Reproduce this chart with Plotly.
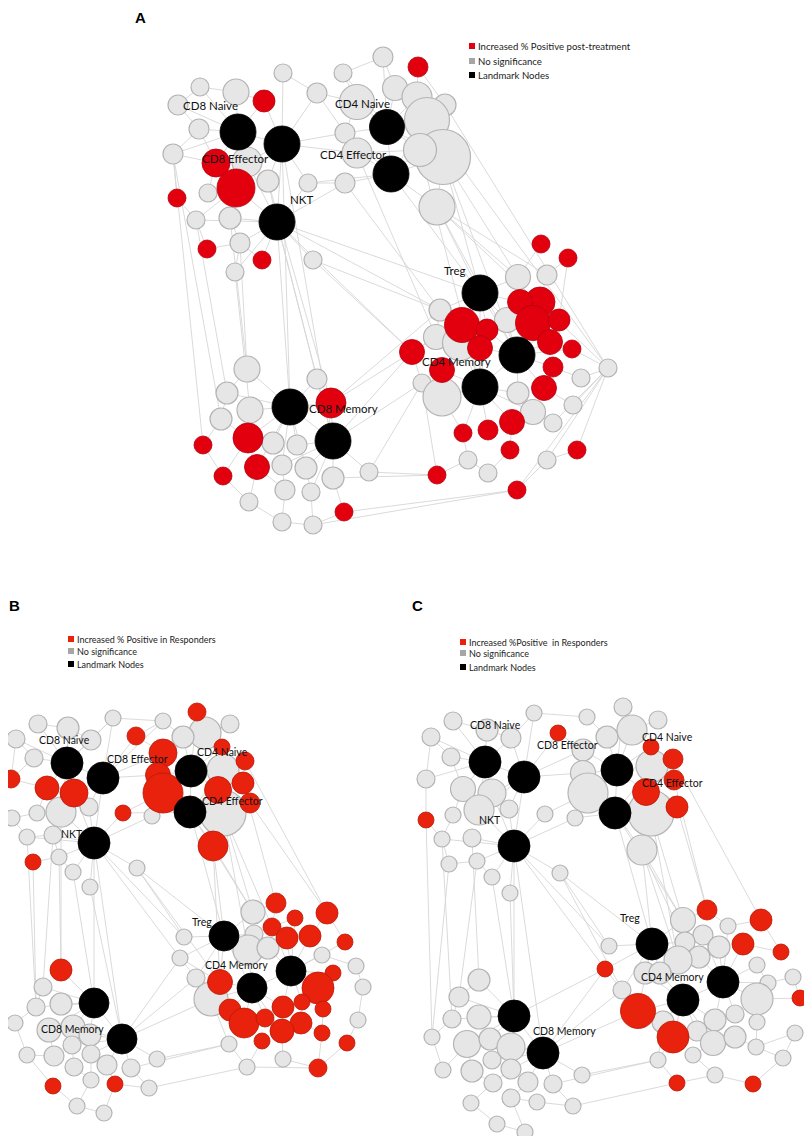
import plotly.graph_objects as go

# ---------------- panel A : post-treatment ----------------
# node layout (x, y), node size and node class (0 = no significance, 1 = increased, 2 = landmark)
a_x = [383, 418, 343, 283, 200, 236, 264, 178, 317, 357, 395, 417, 445, 387, 427, 443, 420, 345, 357, 391,
       437, 345, 308, 282, 238, 199, 173, 216, 247, 236, 268, 208, 177, 196, 230, 277, 207, 240, 262, 313,
       235,
       541, 568, 518, 547, 480, 540, 520, 533, 559, 550, 440, 462, 487, 507, 436, 460, 480, 517, 412, 572,
       442, 608, 553, 422, 442, 480, 518, 544, 581, 533, 573, 512, 553, 463, 488, 510, 577, 468, 547, 488,
       437, 517,
       247, 317, 227, 290, 331, 250, 221, 333, 248, 273, 297, 203, 257, 282, 306, 333, 223, 369, 285, 311,
       249, 344, 282, 313]
a_y = [57, 67, 73, 73, 87, 92, 101, 105, 93, 102, 88, 97, 105, 127, 120, 157, 150, 133, 153, 174,
       207, 183, 183, 144, 132, 129, 154, 163, 162, 188, 181, 193, 198, 220, 218, 222, 249, 243, 260, 260,
       272,
       244, 258, 277, 275, 293, 302, 302, 323, 320, 342, 310, 325, 330, 320, 337, 343, 348, 355, 352, 349,
       370, 368, 367, 383, 397, 387, 393, 388, 378, 412, 405, 422, 423, 433, 430, 450, 450, 460, 460, 473,
       475, 490,
       369, 379, 393, 407, 403, 410, 419, 441, 438, 443, 445, 445, 467, 465, 468, 478, 476, 472, 490, 492,
       502, 512, 522, 525]
a_size = [20, 20, 18, 18, 18, 26, 22, 20, 20, 35, 25, 30, 22, 35, 45, 55, 33, 20, 30, 36,
          36, 20, 18, 36, 36, 20, 20, 28, 30, 38, 22, 18, 18, 18, 22, 36, 18, 20, 18, 18,
          18,
          18, 18, 25, 20, 36, 30, 25, 35, 22, 25, 22, 35, 22, 25, 25, 35, 25, 36, 25, 18,
          25, 18, 20, 18, 38, 36, 22, 25, 18, 25, 18, 25, 18, 18, 20, 18, 18, 18, 18, 18,
          18, 18,
          26, 20, 22, 36, 30, 26, 22, 36, 30, 22, 20, 18, 25, 20, 22, 22, 18, 18, 20, 18,
          18, 18, 18, 18]
a_kind = [0, 1, 0, 0, 0, 0, 1, 0, 0, 0, 0, 0, 0, 2, 0, 0, 0, 0, 0, 2,
          0, 0, 0, 2, 2, 0, 0, 1, 0, 1, 0, 0, 1, 0, 0, 2, 1, 0, 1, 0,
          0,
          1, 1, 0, 0, 2, 1, 1, 1, 1, 1, 0, 1, 1, 0, 0, 0, 1, 2, 1, 1,
          1, 0, 1, 0, 0, 2, 0, 1, 0, 0, 0, 1, 0, 1, 1, 1, 1, 0, 0, 0,
          1, 1,
          0, 0, 0, 2, 1, 0, 0, 2, 1, 0, 0, 1, 1, 0, 0, 0, 1, 0, 0, 0,
          0, 1, 0, 0]
a_edges = [
    (24, 25), (24, 4), (24, 5), (24, 27), (24, 28), (24, 23), (24, 7), (24, 26), (24, 29), (24, 6),
    (23, 3), (23, 6), (23, 8), (23, 28), (23, 30), (23, 22), (23, 35), (23, 17), (23, 29), (23, 18),
    (35, 29), (35, 30), (35, 34), (35, 37), (35, 38), (35, 39), (35, 22), (35, 21), (35, 28), (35, 33), (35, 40),
    (27, 26), (27, 31), (27, 25), (29, 31), (29, 34), (29, 33), (32, 26), (32, 33), (36, 33), (36, 37),
    (40, 37), (38, 37), (7, 4), (7, 25), (4, 5), (5, 6), (3, 8), (8, 17), (26, 25), (34, 37), (8, 9), (22, 21),
    (13, 9), (13, 10), (13, 11), (13, 14), (13, 16), (13, 17), (13, 19), (13, 2), (13, 0), (13, 15),
    (19, 16), (19, 15), (19, 18), (19, 21), (19, 20), (19, 14), (19, 17), (19, 22),
    (9, 2), (9, 17), (10, 0), (11, 1), (11, 12), (14, 12), (15, 20), (16, 18), (0, 2), (14, 15), (1, 12),
    (35, 86), (35, 90), (35, 84), (35, 51), (35, 45), (35, 59), (23, 86), (23, 90), (26, 94), (26, 89),
    (33, 85), (34, 83), (37, 83), (30, 87), (40, 88),
    (15, 45), (15, 43), (15, 58), (20, 45), (20, 58), (20, 62), (19, 45), (16, 66), (14, 62), (12, 62),
    (20, 43), (21, 51), (18, 55), (39, 51), (39, 59), (20, 44),
    (45, 51), (45, 43), (45, 47), (45, 52), (45, 53), (45, 54), (45, 58), (45, 66), (45, 56),
    (58, 48), (58, 50), (58, 53), (58, 54), (58, 57), (58, 63), (58, 67), (58, 66), (58, 60), (58, 68), (58, 46), (58, 49),
    (66, 56), (66, 57), (66, 61), (66, 65), (66, 67), (66, 72), (66, 74), (66, 75), (66, 70), (66, 52), (66, 53),
    (43, 41), (44, 42), (44, 46), (47, 43), (49, 42), (62, 60), (62, 69), (62, 71), (62, 77), (62, 73),
    (62, 82), (62, 79), (64, 59), (64, 81), (65, 74), (69, 63), (71, 68), (73, 70), (79, 77), (80, 76),
    (80, 78), (82, 79), (76, 72), (78, 74), (81, 78), (55, 51), (55, 59),
    (86, 83), (86, 84), (86, 85), (86, 88), (86, 87), (86, 91), (86, 92), (86, 93), (86, 95), (86, 96), (86, 97), (86, 90),
    (90, 87), (90, 93), (90, 97), (90, 98), (90, 100), (90, 96), (90, 102), (90, 84),
    (83, 85), (85, 89), (89, 94), (89, 91), (91, 99), (94, 99), (99, 103), (95, 103), (101, 105), (102, 106),
    (95, 101), (96, 101), (97, 102), (103, 105), (105, 106), (98, 104), (104, 106),
    (100, 81), (90, 59), (87, 51), (90, 64), (98, 81), (104, 82), (100, 64), (106, 82), (87, 55),
]
a_names = ["CD8 Naive", "CD4 Naive", "CD8 Effector", "CD4 Effector", "NKT", "Treg", "CD4 Memory", "CD8 Memory"]
a_legend = ["Increased % Positive post-treatment", "No significance", "Landmark Nodes"]

# ---------------- panel B : responders ----------------
b_x = [197, 113, 163, 230, 38, 68, 16, 91, 205, 183, 136, 163, 222, 245, 34, 67, 103, 191, 223, 158,
       243, 11, 47, 74, 163, 218, 250, 190, 223, 61, 89, 37, 12, 123, 152, 27, 53, 94, 213, 33,
       59, 73, 90, 137,
       276, 253, 327, 295, 272, 254, 224, 287, 310, 345, 184, 180, 248, 268, 322, 291, 356, 333, 363, 220,
       196, 252, 318, 211, 302, 283, 323, 230, 244, 265, 301, 282, 322, 358, 262, 347, 229, 283, 247, 318,
       61, 43, 61, 94, 36, 15, 49, 73, 122, 90, 72, 27, 54, 91, 74, 107, 131, 157, 91, 53,
       115, 149, 77, 104]
b_y = [712, 718, 721, 724, 724, 728, 739, 740, 733, 737, 736, 753, 747, 761, 758, 763, 778, 771, 770, 775,
       783, 779, 788, 793, 793, 790, 803, 812, 813, 812, 807, 813, 818, 813, 816, 837, 835, 843, 846, 862,
       857, 872, 887, 868,
       903, 912, 913, 918, 927, 934, 936, 938, 936, 942, 937, 958, 950, 948, 955, 971, 966, 973, 987, 982,
       978, 988, 988, 999, 1002, 1007, 1009, 1010, 1023, 1018, 1023, 1031, 1033, 1020, 1041, 1043, 1044, 1059, 1067, 1068,
       970, 987, 1004, 1003, 1007, 1023, 1030, 1027, 1039, 1035, 1045, 1055, 1056, 1054, 1067, 1065, 1068, 1059, 1080, 1086,
       1084, 1088, 1106, 1113]
b_size = [18, 16, 16, 18, 18, 22, 18, 20, 32, 22, 18, 28, 16, 18, 18, 32, 32, 32, 32, 25,
          22, 18, 24, 28, 40, 27, 20, 32, 46, 30, 18, 16, 16, 16, 16, 16, 18, 32, 30, 16,
          16, 16, 16, 16,
          20, 24, 22, 16, 18, 18, 30, 22, 22, 16, 16, 16, 30, 22, 16, 30, 16, 16, 16, 25,
          18, 30, 32, 34, 16, 22, 16, 22, 30, 18, 22, 24, 16, 16, 16, 16, 16, 16, 16, 18,
          22, 18, 22, 30, 18, 16, 24, 24, 30, 22, 18, 16, 20, 18, 18, 20, 18, 16, 16, 16,
          16, 16, 16, 16]
b_kind = [1, 0, 0, 0, 0, 0, 0, 0, 0, 0, 1, 1, 1, 1, 0, 2, 2, 2, 0, 1,
          1, 1, 1, 1, 1, 1, 1, 2, 0, 0, 0, 0, 0, 1, 0, 0, 0, 2, 1, 1,
          0, 0, 0, 0,
          1, 0, 1, 1, 1, 0, 2, 1, 1, 1, 0, 0, 0, 0, 0, 2, 0, 1, 0, 1,
          0, 2, 1, 0, 1, 1, 1, 1, 1, 1, 1, 1, 1, 0, 1, 1, 0, 0, 0, 1,
          1, 0, 0, 2, 0, 0, 0, 0, 2, 0, 0, 0, 0, 0, 0, 0, 0, 0, 0, 1,
          1, 0, 0, 0]
b_edges = [
    (15, 4), (15, 5), (15, 7), (15, 14), (15, 22), (15, 23), (15, 16), (15, 29), (15, 1), (15, 6),
    (16, 1), (16, 2), (16, 10), (16, 23), (16, 30), (16, 29), (16, 37), (16, 19), (16, 11),
    (37, 29), (37, 30), (37, 33), (37, 34), (37, 36), (37, 40), (37, 41), (37, 42), (37, 43), (37, 35), (37, 23),
    (4, 5), (5, 7), (6, 14), (6, 21), (14, 21), (21, 22), (22, 31), (29, 31), (31, 32), (32, 35),
    (35, 36), (36, 40), (39, 40), (40, 41), (7, 1), (1, 2), (2, 10), (10, 11),
    (17, 8), (17, 9), (17, 11), (17, 19), (17, 24), (17, 18), (17, 25), (17, 27), (17, 12), (17, 0),
    (27, 24), (27, 25), (27, 28), (27, 38), (27, 18), (27, 26), (27, 33),
    (8, 0), (8, 3), (8, 9), (18, 12), (18, 13), (18, 20), (20, 13), (26, 28), (9, 2), (11, 19),
    (19, 24), (24, 33), (24, 34),
    (37, 87), (37, 92), (37, 55), (37, 54), (43, 54), (43, 63), (43, 50), (35, 88), (40, 84), (41, 87),
    (42, 92), (39, 88), (36, 85),
    (27, 50), (27, 45), (28, 45), (28, 56), (38, 50), (38, 45), (28, 59), (26, 46), (13, 46), (20, 44), (38, 63),
    (50, 45), (50, 49), (50, 54), (50, 55), (50, 56), (50, 63), (50, 65), (50, 64),
    (59, 47), (59, 51), (59, 52), (59, 57), (59, 58), (59, 61), (59, 66), (59, 68), (59, 69), (59, 65), (59, 53),
    (65, 56), (65, 63), (65, 67), (65, 71), (65, 72), (65, 73), (65, 69), (65, 75),
    (44, 45), (44, 48), (46, 53), (46, 52), (47, 48), (51, 57), (58, 60), (60, 62), (62, 77), (77, 79),
    (61, 66), (66, 70), (70, 76), (74, 76), (74, 75), (75, 81), (78, 82), (80, 82), (81, 83), (83, 79),
    (76, 83), (82, 83), (64, 67), (67, 80), (55, 63), (55, 64),
    (87, 84), (87, 86), (87, 85), (87, 91), (87, 93), (87, 92), (87, 90), (87, 88),
    (92, 93), (92, 97), (92, 99), (92, 100), (92, 101), (92, 94), (92, 91),
    (85, 88), (88, 89), (89, 95), (95, 96), (90, 96), (94, 98), (98, 102), (102, 106), (106, 107), (103, 106),
    (103, 95), (104, 107), (104, 105), (100, 105), (99, 104), (97, 102),
    (92, 64), (92, 55), (101, 80), (105, 82), (100, 80), (92, 67), (84, 29),
]
b_legend = ["Increased % Positive in Responders", "No significance", "Landmark Nodes"]

# ---------------- panel C : responders ----------------
c_x = [623, 534, 587, 658, 453, 487, 632, 431, 511, 558, 607, 583, 651, 673, 451, 485, 617, 652, 583, 524,
       426, 463, 492, 674, 646, 588, 677, 615, 651, 479, 509, 453, 545, 575, 426, 442, 472, 514, 642, 449,
       477, 492, 510, 560,
       707, 761, 683, 728, 703, 743, 719, 781, 609, 652, 685, 699, 678, 757, 605, 645, 660, 723, 768, 793,
       622, 683, 757, 800, 638, 715, 735, 757, 663, 673, 697, 713, 735, 795, 756, 693, 783, 658, 715, 677,
       753,
       479, 459, 514, 452, 479, 432, 467, 490, 511, 543, 492, 443, 472, 511, 528, 493, 553, 582, 471, 511,
       537, 573, 497, 525]
c_y = [707, 713, 717, 720, 721, 730, 730, 737, 738, 733, 737, 750, 747, 759, 757, 762, 770, 766, 773, 777,
       779, 789, 793, 780, 792, 793, 807, 813, 813, 810, 809, 815, 814, 818, 820, 839, 838, 846, 850, 864,
       861, 877, 893, 873,
       910, 920, 920, 926, 935, 944, 947, 952, 946, 944, 942, 957, 960, 965, 969, 973, 973, 982, 983, 977,
       990, 1000, 999, 998, 1011, 1020, 1014, 1022, 1022, 1037, 1031, 1043, 1037, 1033, 1047, 1055, 1058, 1060, 1075, 1083,
       1084,
       980, 997, 1016, 1019, 1017, 1037, 1044, 1039, 1047, 1053, 1060, 1070, 1071, 1069, 1082, 1083, 1084, 1075, 1103, 1098,
       1102, 1106, 1124, 1132]
c_size = [18, 16, 16, 18, 18, 22, 30, 18, 20, 16, 22, 22, 16, 20, 18, 32, 32, 32, 25, 32,
          18, 25, 28, 20, 27, 40, 22, 32, 46, 30, 18, 16, 16, 16, 16, 16, 18, 32, 30, 16,
          16, 16, 16, 16,
          20, 22, 25, 16, 20, 22, 22, 16, 16, 32, 20, 22, 28, 16, 16, 22, 22, 32, 16, 16,
          18, 32, 32, 16, 35, 22, 18, 16, 22, 32, 20, 25, 22, 16, 16, 16, 16, 16, 16, 16,
          16,
          22, 20, 32, 18, 24, 16, 27, 22, 28, 32, 18, 16, 22, 20, 20, 18, 18, 16, 16, 18,
          16, 16, 16, 16]
c_kind = [0, 0, 0, 0, 0, 0, 0, 0, 0, 1, 0, 0, 1, 1, 0, 2, 2, 0, 0, 2,
          0, 0, 0, 1, 1, 0, 1, 2, 0, 0, 0, 0, 0, 0, 1, 0, 0, 2, 0, 0,
          0, 0, 0, 0,
          1, 1, 0, 0, 0, 1, 0, 1, 0, 2, 0, 0, 0, 0, 1, 0, 0, 2, 0, 0,
          0, 2, 0, 1, 1, 0, 0, 0, 0, 1, 0, 0, 0, 0, 0, 0, 0, 0, 0, 1,
          1,
          0, 0, 2, 0, 0, 0, 0, 0, 0, 2, 0, 0, 0, 0, 0, 0, 0, 0, 0, 0,
          0, 0, 0, 0]
c_edges = [
    (15, 4), (15, 5), (15, 8), (15, 14), (15, 21), (15, 22), (15, 19), (15, 29), (15, 7), (15, 20),
    (19, 1), (19, 8), (19, 9), (19, 22), (19, 30), (19, 29), (19, 37), (19, 18), (19, 11),
    (37, 29), (37, 30), (37, 32), (37, 33), (37, 36), (37, 40), (37, 41), (37, 42), (37, 43), (37, 35), (37, 22),
    (4, 5), (5, 8), (7, 14), (7, 20), (14, 21), (20, 34), (34, 35), (31, 35), (21, 31), (35, 39),
    (39, 40), (40, 41), (1, 8), (1, 2), (9, 11),
    (16, 6), (16, 10), (16, 11), (16, 18), (16, 25), (16, 17), (16, 24), (16, 27), (16, 12), (16, 0),
    (27, 25), (27, 24), (27, 28), (27, 38), (27, 17), (27, 26), (27, 33),
    (6, 0), (6, 3), (6, 10), (17, 12), (17, 13), (17, 23), (23, 13), (26, 28), (10, 2), (11, 18),
    (18, 25), (25, 32), (25, 33),
    (37, 87), (37, 94), (37, 52), (37, 58), (43, 52), (43, 53), (43, 64), (35, 88), (39, 90), (40, 86),
    (41, 87), (42, 87), (34, 90),
    (27, 53), (27, 46), (28, 46), (28, 56), (38, 53), (38, 46), (38, 54), (26, 44), (13, 45), (23, 44), (38, 56),
    (53, 52), (53, 46), (53, 54), (53, 56), (53, 59), (53, 60), (53, 58), (53, 64), (53, 68),
    (61, 48), (61, 49), (61, 50), (61, 55), (61, 57), (61, 62), (61, 66), (61, 69), (61, 70), (61, 65), (61, 47),
    (65, 56), (65, 60), (65, 68), (65, 72), (65, 73), (65, 74), (65, 69), (65, 75), (65, 59),
    (44, 46), (44, 47), (45, 47), (45, 51), (49, 51), (57, 62), (62, 63), (63, 67), (66, 67), (66, 71),
    (71, 78), (77, 78), (77, 80), (78, 80), (76, 78), (75, 79), (79, 82), (81, 83), (82, 84), (80, 84),
    (73, 81), (64, 68), (58, 64), (72, 81), (82, 83),
    (87, 85), (87, 86), (87, 89), (87, 92), (87, 93), (87, 94), (87, 91), (87, 88),
    (94, 93), (94, 98), (94, 99), (94, 101), (94, 102), (94, 95), (94, 92),
    (85, 86), (86, 88), (88, 90), (90, 96), (96, 91), (91, 97), (97, 100), (100, 103), (103, 107), (107, 108),
    (104, 108), (104, 105), (101, 106), (99, 104), (98, 100), (105, 106),
    (94, 58), (94, 64), (102, 81), (106, 83), (101, 81), (94, 68), (87, 58), (85, 36),
]
c_legend = ["Increased %Positive  in Responders", "No significance", "Landmark Nodes"]

# landmark label names in the order their positions are listed below
label_names = ["CD8 Naive", "CD8 Effector", "CD4 Naive", "CD4 Effector", "NKT", "Treg", "CD4 Memory", "CD8 Memory"]

# ---------------- layout (page pixels) ----------------
PAGE_W, PAGE_H = 812, 1144
BODY = 8  # default body margin of the html page
W, H = PAGE_W - BODY, PAGE_H - 2 * BODY

panels = [
    dict(x=a_x, y=a_y, s=a_size, k=a_kind, e=a_edges, legend=a_legend,
         red="#e2000f", redline="#b3000c", fs=11.5, lfs=9.6,
         letter=("A", 140, 17), leg_x=472, leg_y=[46, 61, 75],
         lab=[(181, 105), (200, 158), (333, 103), (318, 154), (288, 199), (442, 270), (420, 361), (307, 408)]),
    dict(x=b_x, y=b_y, s=b_size, k=b_kind, e=b_edges, legend=b_legend,
         red="#e8220c", redline="#b81a08", fs=10.5, lfs=9.0,
         letter=("B", 14, 605), leg_x=71, leg_y=[639, 651, 664],
         lab=[(37, 740), (105, 759), (195, 752), (200, 801), (59, 834), (190, 922), (203, 965), (39, 1029)]),
    dict(x=c_x, y=c_y, s=c_size, k=c_kind, e=c_edges, legend=c_legend,
         red="#e8220c", redline="#b81a08", fs=10.5, lfs=9.0,
         letter=("C", 417, 605), leg_x=463, leg_y=[642, 653, 667],
         lab=[(468, 725), (535, 745), (640, 737), (640, 783), (477, 820), (618, 918), (639, 977), (531, 1031)]),
]

fig = go.Figure()
annotations = []
FONT = "Lato, Carlito, Arial"

for p in panels:
    ex, ey = [], []
    for i, j in p["e"]:
        ex += [p["x"][i], p["x"][j], None]
        ey += [p["y"][i], p["y"][j], None]
    fig.add_trace(go.Scatter(x=ex, y=ey, mode="lines",
                             line=dict(color="#d6d6d6", width=0.9),
                             hoverinfo="skip", showlegend=False))

    styles = {0: ("#e6e6e6", "#b4b4b4", 1.2), 1: (p["red"], p["redline"], 0.8), 2: ("#000000", "#000000", 0.8)}
    for kind in (0, 1, 2):
        idx = [n for n, kk in enumerate(p["k"]) if kk == kind]
        fill, edge, lw = styles[kind]
        fig.add_trace(go.Scatter(
            x=[p["x"][n] for n in idx], y=[p["y"][n] for n in idx], mode="markers",
            marker=dict(size=[p["s"][n] for n in idx], color=fill, opacity=1,
                        line=dict(color=edge, width=lw)),
            hoverinfo="skip", showlegend=False))

    for name, (lx, ly) in zip(label_names, p["lab"]):
        annotations.append(dict(x=lx, y=ly, xref="x", yref="y", text=name, showarrow=False,
                                xanchor="left", yanchor="middle",
                                font=dict(family=FONT, size=p["fs"], color="#111111")))

    # legend squares + text
    fig.add_trace(go.Scatter(
        x=[p["leg_x"]] * 3, y=p["leg_y"], mode="markers",
        marker=dict(symbol="square", size=6, color=[p["red"], "#a6a6a6", "#000000"], line=dict(width=0)),
        hoverinfo="skip", showlegend=False))
    for txt, ly in zip(p["legend"], p["leg_y"]):
        annotations.append(dict(x=p["leg_x"] + 3.5, y=ly, xref="x", yref="y", text=txt, showarrow=False,
                                xanchor="left", yanchor="middle",
                                font=dict(family=FONT, size=p["lfs"], color="#222222")))

    letter, lx, ly = p["letter"]
    annotations.append(dict(x=lx, y=ly, xref="x", yref="y", text="<b>%s</b>" % letter, showarrow=False,
                            xanchor="center", yanchor="middle",
                            font=dict(family="Liberation Sans, Arial", size=15, color="#000000")))

# axes in page pixels, shifted by the body margin so page pixel p lands at screen pixel p
fig.update_xaxes(range=[BODY, BODY + W], visible=False, fixedrange=True)
fig.update_yaxes(range=[BODY + H, BODY], visible=False, fixedrange=True)
fig.update_layout(
    width=W, height=H,
    margin=dict(l=0, r=0, t=0, b=0),
    paper_bgcolor="white", plot_bgcolor="white",
    annotations=annotations,
    showlegend=False,
)

fig.write_html("out.html")
